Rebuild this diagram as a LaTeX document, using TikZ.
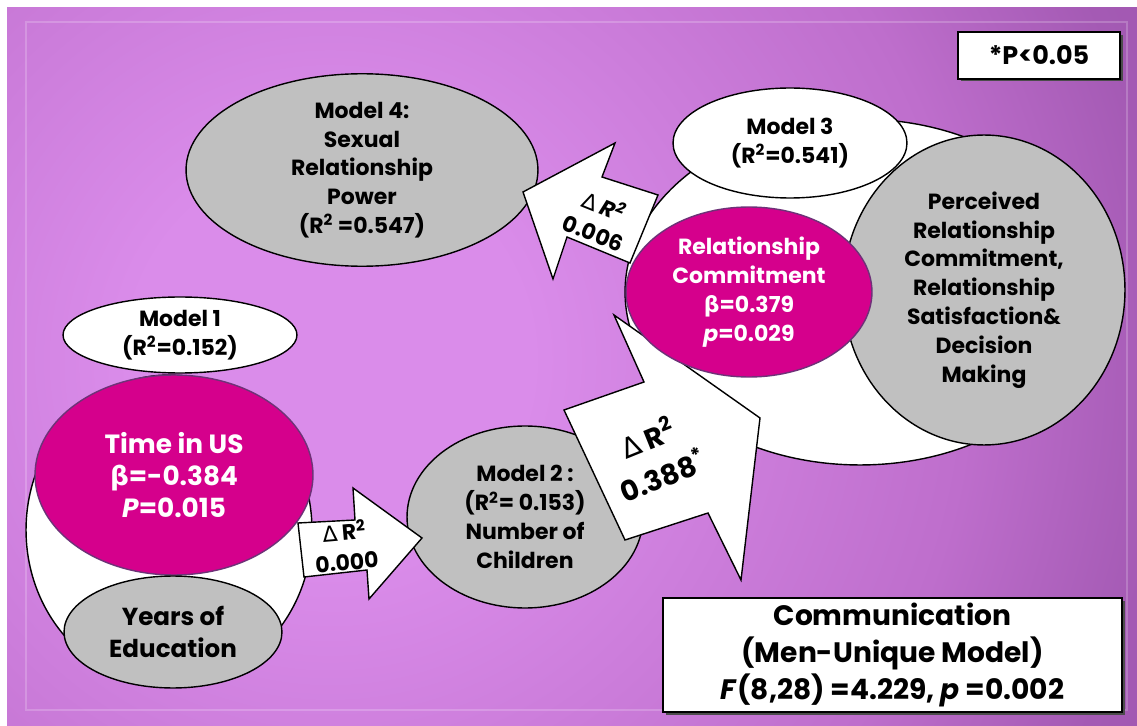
\documentclass[tikz,border=0pt]{standalone}
\usepackage{fontspec}
\setmainfont{Poppins}
\newfontfamily\dejavu{DejaVu Sans}
\usetikzlibrary{shapes.geometric}

\definecolor{bglight}{RGB}{218,140,234}
\definecolor{bgmida}{RGB}{190,110,204}
\definecolor{bgmidb}{RGB}{164,90,180}
\definecolor{bgdark}{RGB}{138,74,156}
\definecolor{pinkfill}{RGB}{213,0,140}
\definecolor{pinkedge}{RGB}{110,50,120}
\definecolor{greyfill}{RGB}{192,192,192}
\pgfdeclareradialshading{bgglow}{\pgfpointorigin}{color(0bp)=(bglight); color(5bp)=(bglight); color(16bp)=(bgmida); color(21bp)=(bgmidb); color(36bp)=(bgdark); color(50bp)=(bgdark)}

\newcommand{\dR}{{\dejavu\mdseries ∆} R\textsuperscript{2}}
\newcommand{\bt}{{\dejavu\bfseries β}}

\begin{document}
\begin{tikzpicture}[x=0.02cm, y=-0.02cm, line width=0.8pt,
    every node/.style={align=center, inner sep=0pt},
    lbl/.style={font=\bfseries\fontsize{12.5}{16.4}\selectfont},
    whitebub/.style={ellipse, draw=black, fill=white, lbl},
    greybub/.style={ellipse, draw=black, fill=greyfill, lbl},
    pinkbub/.style={ellipse, draw=pinkedge, fill=pinkfill, text=white, lbl},
    blk/.style={draw=black, fill=white, line join=miter}]
  % background
  \useasboundingbox (0,0) rectangle (1137,726);
  \fill[white] (0,0) rectangle (1137,726);
  \begin{scope}
    \clip (7,8) rectangle (1137,726);
    \fill[bgdark] (7,8) rectangle (1137,726);
    \shade[shading=bgglow] (330,360) circle[radius=1000];
  \end{scope}
  \draw[white, opacity=0.2, line width=1pt] (26,22) rectangle (1127,710);

  % model 1
  \node[whitebub, minimum width=5.72cm, minimum height=6.2cm] (m_1bg) at (169,530) {};
  \node[pinkbub, minimum width=5.56cm, minimum height=4cm,
        font=\bfseries\fontsize{15}{18}\selectfont] (t_us) at (174,475)
        {Time in US\\\bt=-0.384\\\textit{P}=0.015};
  \node[greybub, minimum width=4.36cm, minimum height=2.24cm,
        font=\bfseries\fontsize{14}{18}\selectfont] (edu) at (173,632) {Years of\\Education};
  \node[whitebub, minimum width=4.68cm, minimum height=1.52cm] (m_1) at (180,335)
        {Model 1\\(R\textsuperscript{2}=0.152)};

  % model 2
  \node[greybub, minimum width=4.72cm, minimum height=3.64cm] (m_2) at (525,517)
        {Model 2 :\\(R\textsuperscript{2}= 0.153)\\Number of\\Children};

  % model 4
  \node[greybub, minimum width=7.04cm, minimum height=3cm] (m_4) at (362,170)
        {Model 4:\\Sexual\\Relationship\\Power\\(R\textsuperscript{2} =0.547)};

  % model 3
  \node[whitebub, minimum width=9.4cm, minimum height=6.92cm] (m_3bg) at (860,292) {};
  \node[whitebub, minimum width=4.68cm, minimum height=2.2cm] (m_3) at (790,143)
        {Model 3\\(R\textsuperscript{2}=0.541)};
  \node[greybub, minimum width=5.64cm, minimum height=6.2cm] (prc) at (984,290)
        {Perceived\\Relationship\\Commitment,\\Relationship\\Satisfaction\&\\Decision\\Making};

  % block arrows
  \filldraw[blk] (298,523) -- (355,520) -- (353,488) -- (422,538) -- (369,599) -- (367,570) -- (304,577) -- cycle;
  \node[rotate=5, font=\bfseries\fontsize{12.5}{17}\selectfont] (d_0) at (345.5,546) {\dR\\0.000};

  \filldraw[blk] (658,195) -- (602,177) -- (615,143) -- (523,192) -- (553,279) -- (567,237) -- (630,263) -- cycle;
  \node[rotate=-22, font=\bfseries\fontsize{12.5}{16.5}\selectfont] (d_6) at (599,219)
        {{\dejavu\mdseries ∆} \textit{R\textsuperscript{2}}\\0.006};

  \filldraw[blk] (564,410) -- (644,382) -- (614,315) -- (760,418) -- (741,580) -- (708,513) -- (625,540) -- cycle;
  \node[rotate=22, font=\bfseries\fontsize{16}{23}\selectfont] (d_3) at (655,456) {\dR\\0.388\textsuperscript{*}};

  \node[pinkbub, minimum width=4.92cm, minimum height=3.4cm] (rc) at (749,292)
        {Relationship\\Commitment\\\bt=0.379\\\textit{p}=0.029};

  % boxes
  \fill[black!70] (961,35) rectangle (1123,81);
  \node[draw, fill=white, minimum width=3.24cm, minimum height=0.94cm,
        font=\bfseries\fontsize{14.5}{16}\selectfont] (sig) at (1039,55.5) {*P<0.05};
  \fill[black!70] (666,601) rectangle (1125,715);
  \node[draw, fill=white, minimum width=9.18cm, minimum height=2.28cm,
        font=\bfseries\fontsize{16}{21}\selectfont] (comm) at (892.5,655)
        {Communication\\(Men-Unique Model)\\\textit{F}(8,28) =4.229, \textit{p} =0.002};
\end{tikzpicture}
\end{document}
